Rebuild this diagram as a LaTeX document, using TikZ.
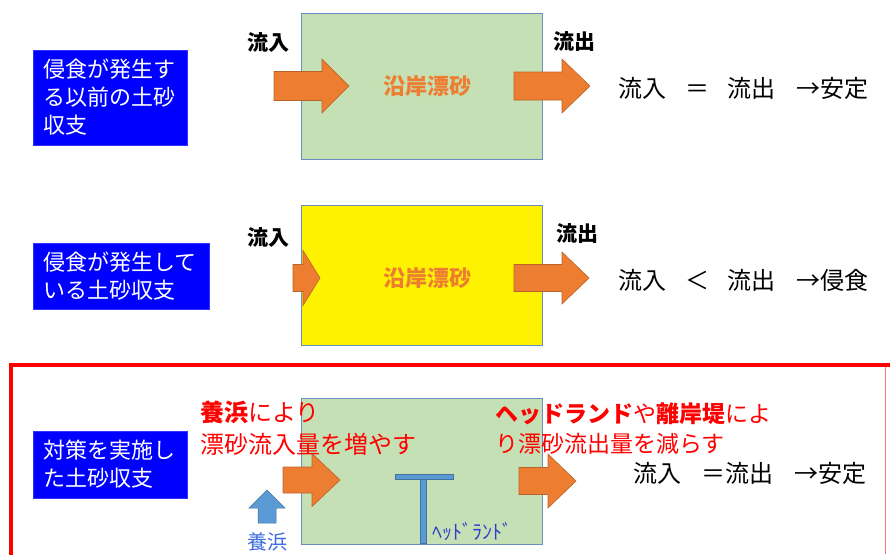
\documentclass[tikz,border=0pt]{standalone}
\usepackage{fontspec}
\setmainfont{Noto Sans CJK JP}
\usepackage{xcolor}
\usetikzlibrary{calc}

\definecolor{boxblue}{HTML}{0000FF}
\definecolor{sandgreen}{HTML}{C5E0B4}
\definecolor{boxedge}{HTML}{6A8CBE}
\definecolor{flowora}{HTML}{ED7D31}
\definecolor{floworaedge}{HTML}{B8642A}
\definecolor{nourblue}{HTML}{5B9BD5}
\definecolor{nouredge}{HTML}{41719C}
\definecolor{hlblue}{HTML}{2F3FCC}

% tail x, head base x, tip x, centre y, shaft half, head half
\newcommand{\blockarrow}[6]{%
  \filldraw[flowarrow] (#1,#4-#5) -- (#2,#4-#5) -- (#2,#4-#6) -- (#3,#4)
    -- (#2,#4+#6) -- (#2,#4+#5) -- (#1,#4+#5) -- cycle;}

\begin{document}
\begin{tikzpicture}[x=1pt,y=-1pt,
    bluebox/.style={rectangle, draw=boxblue!80!white, fill=boxblue, text=white, inner sep=0pt, align=left, font=\fontsize{22}{28}\selectfont},
    sandbox/.style={rectangle, draw=boxedge, line width=1pt, inner sep=0pt, minimum width=241, minimum height=146},
    flowarrow/.style={fill=flowora, draw=floworaedge, line width=0.6pt},
    flowlabel/.style={inner sep=0pt, font=\fontsize{21}{24}\selectfont\bfseries},
    driftlabel/.style={inner sep=0pt, text=flowora, font=\fontsize{22}{24}\selectfont\bfseries},
    balance/.style={inner sep=0pt, anchor=west, font=\fontsize{24}{28}\selectfont},
    redtext/.style={inner sep=0pt, anchor=north west, align=left, text=red}]
  \useasboundingbox (0,0) rectangle (890,554);

  % before erosion
  \node[sandbox, fill=sandgreen] (sand1) at (421.5,86) {};
  \node[driftlabel] (drift1) at (427,86) {沿岸漂砂};
  \node[bluebox, minimum width=154, minimum height=95, text width=134] (case1) at (110,97.5) {侵食が発生す\\る以前の土砂\\収支};
  \node[flowlabel] (in1) at (268,43) {流入};
  \node[flowlabel] (out1) at (574,42) {流出};
  \blockarrow{274}{322}{349}{86}{14.5}{27}
  \blockarrow{514}{562}{590}{86}{14}{27}
  \node[balance] (eq1) at (618,88) {流入\hspace{0.8em}＝\hspace{0.75em}流出\hspace{0.9em}→安定};

  % during erosion
  \node[sandbox, fill=yellow, minimum height=140] (sand2) at (421.5,275) {};
  \node[driftlabel] (drift2) at (427,278) {沿岸漂砂};
  \node[bluebox, minimum width=176, minimum height=66, text width=156] (case2) at (121,276) {侵食が発生して\\いる土砂収支};
  \node[flowlabel] (in2) at (268,238) {流入};
  \node[flowlabel] (out2) at (577,234) {流出};
  \blockarrow{293}{303}{320}{278}{13.5}{27.5}
  \blockarrow{514}{562}{589}{278}{13.5}{26}
  \node[balance] (eq2) at (618,280) {流入\hspace{0.8em}＜\hspace{0.75em}流出\hspace{0.9em}→侵食};

  % countermeasures
  \draw[red, line width=4pt] (10.5,365) rectangle (900,580);
  \draw[red!55, line width=0.8pt] (885.5,367) -- (885.5,554);
  \node[sandbox, fill=sandgreen] (sand3) at (421.5,471) {};
  \node[bluebox, minimum width=154, minimum height=67, text width=134] (case3) at (110,464.5) {対策を実施し\\た土砂収支};
  \filldraw[fill=nourblue, draw=nouredge, line width=0.5pt] (395,474) rectangle (453,479);
  \filldraw[fill=nourblue, draw=nouredge, line width=0.5pt] (420,479) rectangle (426,543);
  \node[inner sep=0pt, anchor=west, text=hlblue, font=\fontsize{20}{22}\selectfont] (headland) at (432,532) {ﾍｯﾄﾞﾗﾝﾄﾞ};
  \filldraw[fill=nourblue, draw=nouredge, line width=0.5pt] (258,523) -- (258,508) -- (249,508) -- (267,490) -- (285,508) -- (276,508) -- (276,523) -- cycle;
  \node[inner sep=0pt, text=nourblue!70!blue, font=\fontsize{20}{22}\selectfont] (nourish) at (267,542) {養浜};
  \blockarrow{283}{312}{340}{480}{13}{26.5}
  \blockarrow{519}{548}{576}{481}{13.5}{27}
  \node[balance] (eq3) at (633,473) {流入\hspace{0.83em}＝流出\hspace{0.9em}→安定};
  \node[redtext, font=\fontsize{24}{32}\selectfont] (plan1) at (200,401) {{\bfseries 養浜}により\\漂砂流入量を増やす};
  \node[redtext, font=\fontsize{23}{30}\selectfont] (plan2) at (495,403) {{\bfseries ヘッドランド}や{\bfseries 離岸堤}によ\\り漂砂流出量を減らす};
\end{tikzpicture}
\end{document}
